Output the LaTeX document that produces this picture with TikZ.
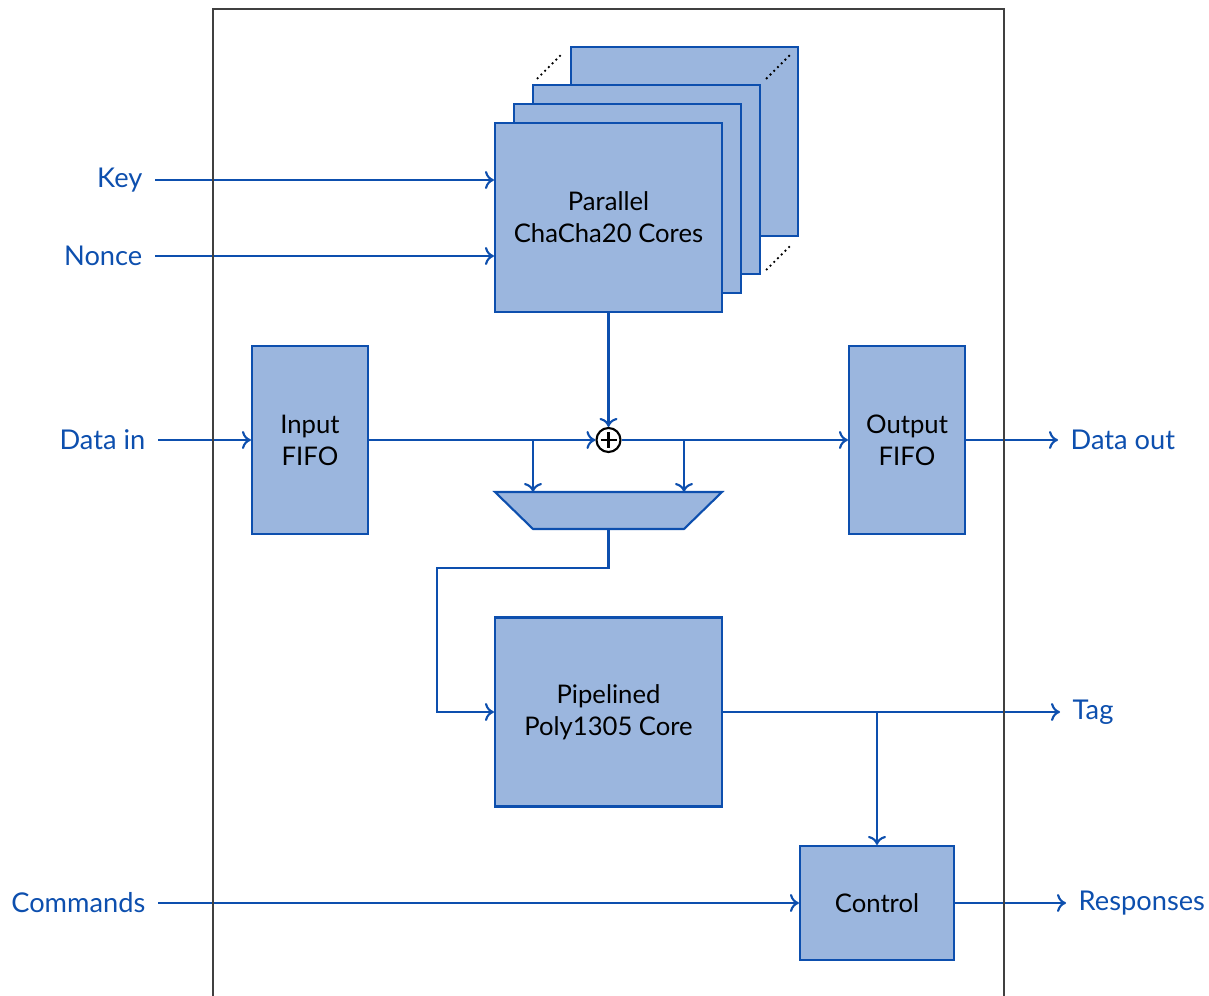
\documentclass[tikz,border=0pt]{standalone}
\usepackage{fontspec}
\setmainfont{Lato}
\usetikzlibrary{calc,arrows.meta}

\definecolor{linea}{HTML}{0D4FAE}
\definecolor{riempi}{HTML}{9BB6DE}
\definecolor{cornice}{HTML}{404040}

\tikzset{
    blocco/.style={draw=linea, fill=riempi, line width=0.6pt, align=center, inner sep=0pt,
        font=\fontsize{7.3}{9.1}\selectfont},
    segnale/.style={draw=linea, line width=0.6pt, -{To[length=0.9mm, width=1.8mm]}},
    etichetta/.style={text=linea, inner xsep=0.12cm, inner ysep=0pt, font=\fontsize{7.75}{10}\selectfont},
}

\begin{document}
\begin{tikzpicture}
\useasboundingbox (0,0) rectangle (12.09,-9.96);

% Nuclei ChaCha20 (pila)
\node[blocco, minimum width=2.27cm, minimum height=1.89cm] (core4) at (6.845,-1.415) {};
\node[blocco, minimum width=2.27cm, minimum height=1.89cm] (core3) at (6.465,-1.795) {};
\node[blocco, minimum width=2.27cm, minimum height=1.89cm] (core2) at (6.275,-1.985) {};
\node[blocco, minimum width=2.27cm, minimum height=1.89cm] (core1) at (6.085,-2.175) {Parallel\\ChaCha20 Cores};

% puntini tra i nuclei
\draw[dash pattern=on 0pt off 1.5pt, line cap=round, line width=0.75pt]
    ($(core3.north west)!0.15!(core4.north west)$) -- ($(core3.north west)!0.8!(core4.north west)$)
    ($(core3.north east)!0.15!(core4.north east)$) -- ($(core3.north east)!0.8!(core4.north east)$)
    ($(core3.south east)!0.15!(core4.south east)$) -- ($(core3.south east)!0.8!(core4.south east)$);

% FIFO, Poly1305, controllo
\node[blocco, minimum width=1.16cm, minimum height=1.88cm] (fifoin) at (3.10,-4.40) {Input\\FIFO};
\node[blocco, minimum width=1.16cm, minimum height=1.88cm] (fifoout) at (9.07,-4.40) {Output\\FIFO};
\node[blocco, minimum width=2.27cm, minimum height=1.89cm] (poly) at (6.085,-7.12) {Pipelined\\Poly1305 Core};
\node[blocco, minimum width=1.54cm, minimum height=1.14cm] (control) at (8.77,-9.03) {Control};

% XOR
\node[draw, circle, line width=0.6pt, minimum size=0.24cm, inner sep=0pt] (xor) at (6.085,-4.40) {};
\draw[line width=0.6pt] ([xshift=-0.08cm]xor.center) -- ([xshift=0.08cm]xor.center)
    ([yshift=-0.08cm]xor.center) -- ([yshift=0.08cm]xor.center);

% multiplexer
\draw[blocco] (4.95,-4.92) -- (7.22,-4.92) -- (6.84,-5.29) -- (5.33,-5.29) -- cycle;
\coordinate (muxa) at (5.33,-4.92);
\coordinate (muxb) at (6.84,-4.92);
\coordinate (mux) at (6.085,-5.29);

% Etichette
\node[etichetta, anchor=east] (key) at (1.55,-1.80) {Key};
\node[etichetta, anchor=east] (nonce) at (1.55,-2.56) {Nonce};
\node[etichetta, anchor=east] (din) at (1.58,-4.40) {Data in};
\node[etichetta, anchor=east] (cmd) at (1.58,-9.03) {Commands};
\node[etichetta, anchor=west] (dout) at (10.58,-4.40) {Data out};
\node[etichetta, anchor=west] (tag) at (10.60,-7.12) {Tag};
\node[etichetta, anchor=west] (resp) at (10.66,-9.03) {Responses};

% Collegamenti
\draw[segnale] (key.east) -- (key.east -| core1.west);
\draw[segnale] (nonce.east) -- (nonce.east -| core1.west);
\draw[segnale] (din.east) -- (fifoin.west);
\draw[segnale] (fifoin.east) -- (xor.west);
\draw[segnale] (core1.south) -- (xor.north);
\draw[segnale] (xor.east) -- (fifoout.west);
\draw[segnale] (fifoout.east) -- (dout.west);
\draw[segnale] (muxa |- xor) -- (muxa);
\draw[segnale] (muxb |- xor) -- (muxb);
\draw[segnale] (mux) -- ++(0,-0.39) -| ([xshift=-0.57cm]poly.west) -- (poly.west);
\draw[segnale] (poly.east) -- (tag.west);
\draw[segnale] (poly.east -| control.north) -- (control.north);
\draw[segnale] (cmd.east) -- (control.west);
\draw[segnale] (control.east) -- (resp.west);

% Cornice
\draw[cornice, line width=0.6pt] (2.13,-9.96) -- (2.13,-0.09) -- (10.04,-0.09) -- (10.04,-9.96);

\end{tikzpicture}
\end{document}
